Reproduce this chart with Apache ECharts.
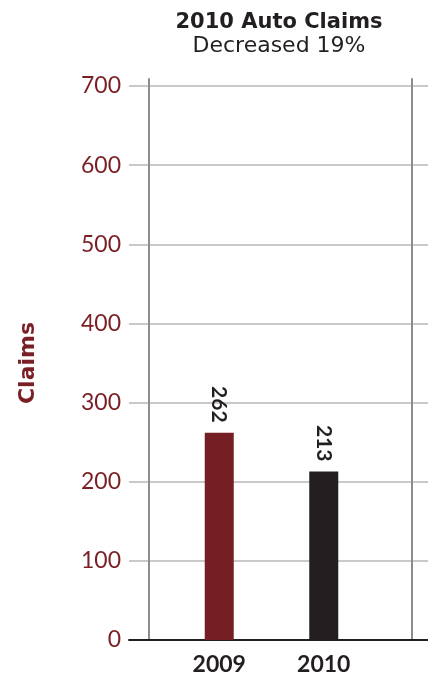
<!DOCTYPE html>
<html>
<head>
<meta charset="utf-8">
<script src="https://cdn.jsdelivr.net/npm/echarts@6/dist/echarts.min.js"></script>
<style>
  html, body { margin: 0; padding: 0; background: #ffffff; }
  #chart { width: 428px; height: 677px; }
</style>
</head>
<body>
<div id="chart"></div>
<script>
// Claim counts by year
const years = ['2009', '2010'];
const claims = [262, 213];
const barColors = ['#741f23', '#231f20'];
const yTicks = { min: 0, max: 700, step: 100 };

const FONT = 'Lato, "DejaVu Sans", sans-serif';
const WIDE = '"DejaVu Sans", sans-serif';
const RED = '#7a1f25';
const INK = '#231f20';

const chart = echarts.init(document.getElementById('chart'), null, { renderer: 'canvas' });

// shared plot extent (top/bottom) for the value scale
const plotTop = 86;
const plotBottom = 37;

chart.setOption({
  backgroundColor: '#ffffff',
  animation: false,
  title: {
    text: '2010 Auto Claims',
    subtext: 'Decreased 19%',
    left: 274,
    textAlign: 'center',
    top: 7,
    itemGap: 2,
    textStyle: { fontFamily: WIDE, fontWeight: 'bold', fontSize: 21, color: INK },
    subtextStyle: { fontFamily: WIDE, fontWeight: 'normal', fontSize: 22, color: INK }
  },
  grid: [
    // gridlines, value labels and baseline
    { left: 129, right: 0, top: plotTop, bottom: plotBottom },
    // vertical frame rules
    { left: 149, right: 16, top: 79, bottom: plotBottom },
    // bars
    { left: 167, right: 52, top: plotTop, bottom: plotBottom }
  ],
  xAxis: [
    {
      gridIndex: 0, type: 'category', data: [''],
      axisLine: { show: true, lineStyle: { color: INK, width: 2 } },
      axisTick: { show: false }, axisLabel: { show: false }, splitLine: { show: false }
    },
    {
      gridIndex: 1, type: 'category', data: [''], show: false
    },
    {
      gridIndex: 2, type: 'category', data: years,
      axisLine: { show: false }, axisTick: { show: false },
      axisLabel: { fontFamily: FONT, fontWeight: 'bold', fontSize: 23, color: INK, margin: 13 }
    }
  ],
  yAxis: [
    {
      gridIndex: 0, type: 'value',
      min: yTicks.min, max: yTicks.max, interval: yTicks.step,
      name: 'Claims', nameLocation: 'middle', nameGap: 90, nameRotate: 90,
      nameTextStyle: { fontFamily: WIDE, fontWeight: 'bold', fontSize: 22, color: RED },
      axisLine: { show: false }, axisTick: { show: false },
      axisLabel: { fontFamily: FONT, fontSize: 23, color: RED, margin: 8 },
      splitLine: { show: true, lineStyle: { color: '#c9c9c9', width: 2 } }
    },
    {
      gridIndex: 1, type: 'value', position: 'left',
      axisLine: { show: true, lineStyle: { color: '#8c8c8e', width: 2 } },
      axisTick: { show: false }, axisLabel: { show: false }, splitLine: { show: false }
    },
    {
      gridIndex: 1, type: 'value', position: 'right',
      axisLine: { show: true, lineStyle: { color: '#8c8c8e', width: 2 } },
      axisTick: { show: false }, axisLabel: { show: false }, splitLine: { show: false }
    },
    {
      gridIndex: 2, type: 'value',
      min: yTicks.min, max: yTicks.max, interval: yTicks.step, show: false
    }
  ],
  series: [
    {
      type: 'bar',
      xAxisIndex: 2, yAxisIndex: 3,
      barWidth: 29,
      z: 5,
      data: claims.map((v, i) => ({ value: v, itemStyle: { color: barColors[i] } })),
      label: {
        show: true, position: 'top', distance: 10,
        rotate: -90, align: 'right', verticalAlign: 'middle',
        fontFamily: FONT, fontWeight: 'bold', fontSize: 21, color: INK
      }
    }
  ]
});
</script>
</body>
</html>
